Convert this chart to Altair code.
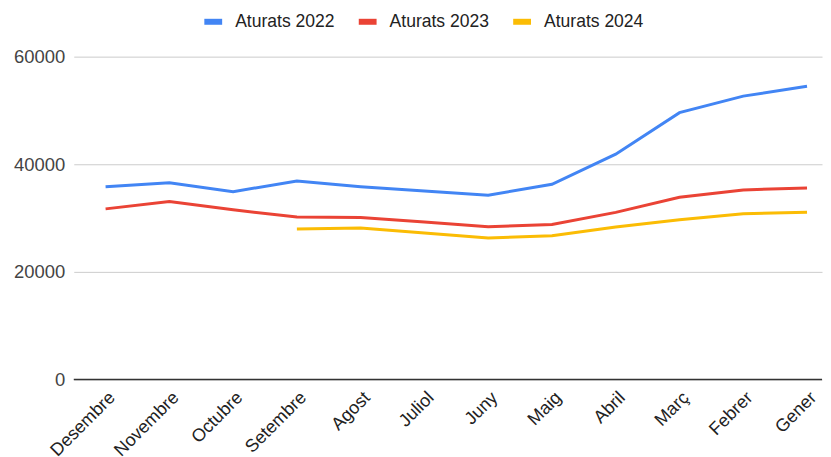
import altair as alt
import pandas as pd

months = ["Desembre", "Novembre", "Octubre", "Setembre", "Agost", "Juliol",
          "Juny", "Maig", "Abril", "Març", "Febrer", "Gener"]
series = ["Aturats 2022", "Aturats 2023", "Aturats 2024"]
aturats_2022 = [35840, 36580, 34910, 36890, 35840, 35040, 34250, 36280, 41880, 49590, 52660, 54510]
aturats_2023 = [31710, 33060, 31530, 30180, 30100, 29250, 28380, 28810, 31060, 33880, 35230, 35600]
aturats_2024 = [None, None, None, 27960, 28140, 27220, 26290, 26720, 28330, 29680, 30790, 31100]
colors = ["#4285F4", "#EA4335", "#FBBC04"]

rows = []
for name, vals in zip(series, [aturats_2022, aturats_2023, aturats_2024]):
    for m, v in zip(months, vals):
        if v is not None:
            rows.append({"Mes": m, "Serie": name, "Valor": v})
df = pd.DataFrame(rows)

FONT = "Liberation Sans"

chart = alt.Chart(df).mark_line(strokeWidth=3).encode(
    x=alt.X("Mes:N", sort=months, title=None,
            scale=alt.Scale(padding=0.367, align=0.68),
            axis=alt.Axis(labelAngle=-45, labelFontSize=18, labelColor="#222222",
                          labelFont=FONT, ticks=False, domain=False, grid=False,
                          labelPadding=9)),
    y=alt.Y("Valor:Q", title=None,
            scale=alt.Scale(domain=[0, 60000], nice=False),
            axis=alt.Axis(values=[0, 20000, 40000, 60000], format="d",
                          labelFontSize=18.5, labelColor="#444444", labelFont=FONT,
                          ticks=False, domain=False, gridColor="#cccccc",
                          labelPadding=9)),
    color=alt.Color("Serie:N", scale=alt.Scale(domain=series, range=colors),
                    legend=alt.Legend(orient="none", legendX=128, legendY=-47,
                                      direction="horizontal", title=None,
                                      labelFont=FONT, labelFontSize=17.6, labelColor="#222222",
                                      symbolType="stroke", symbolSize=320,
                                      symbolStrokeWidth=6, labelOffset=10,
                                      columnPadding=12)),
)

baseline = alt.Chart(pd.DataFrame({"y": [0]})).mark_rule(color="#333333", strokeWidth=1.5).encode(
    y=alt.Y("y:Q", scale=alt.Scale(domain=[0, 60000], nice=False))
)

final = alt.layer(chart, baseline).properties(
    width=751, height=324,
    padding={"left": 5, "right": 0, "top": 1, "bottom": 0},
).configure_view(stroke=None)

final.save("out.html", embed_options={"renderer": "svg", "actions": False})
